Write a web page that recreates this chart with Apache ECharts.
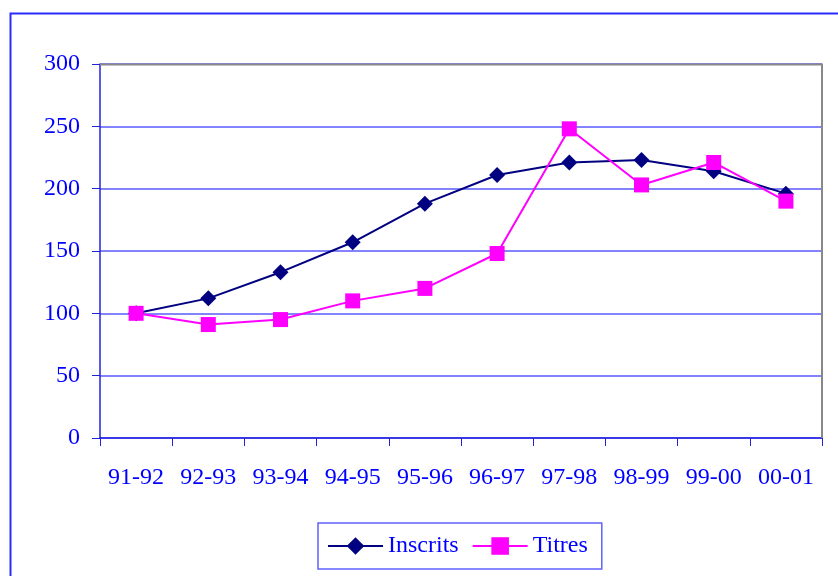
<!DOCTYPE html>
<html>
<head>
<meta charset="utf-8">
<script src="https://cdn.jsdelivr.net/npm/echarts@6/dist/echarts.min.js"></script>
<style>
  html, body { margin: 0; padding: 0; background: #ffffff; }
  #chart { width: 838px; height: 576px; }
</style>
</head>
<body>
<div id="chart"></div>
<script>
// Academic years
var years = ['91-92', '92-93', '93-94', '94-95', '95-96', '96-97', '97-98', '98-99', '99-00', '00-01'];
// Indexed values (91-92 = 100)
var inscrits = [100, 112, 133, 157, 188, 211, 221, 223, 214, 196];
var titres = [100, 91, 95, 110, 120, 148, 248, 203, 221, 190];
// Value axis ticks
var yTicks = [0, 50, 100, 150, 200, 250, 300];

var FONT = '"Liberation Serif", "Times New Roman", serif';
var TEXT_BLUE = '#0000ff';

var chart = echarts.init(document.getElementById('chart'), null, { renderer: 'canvas' });
chart.setOption({
  animation: false,
  backgroundColor: '#ffffff',
  graphic: [
    {
      type: 'rect',
      shape: { x: 10.5, y: 13.5, width: 900, height: 700 },
      style: { fill: 'none', stroke: '#2b2bff', lineWidth: 2 },
      silent: true,
      z: -1
    },
    {
      // top and right edges of the plot area
      type: 'polyline',
      shape: { points: [[100, 64.5], [822, 64.5], [822, 438]] },
      style: { stroke: '#888888', lineWidth: 2, fill: 'none' },
      silent: true,
      z: 1
    }
  ],
  grid: { left: 100, right: 16, top: 64, bottom: 138, containLabel: false },
  xAxis: {
    type: 'category',
    data: years,
    boundaryGap: true,
    axisLine: { show: true, lineStyle: { color: '#2222dd', width: 1.5 } },
    axisTick: { show: true, interval: 0, length: 8, lineStyle: { color: '#2222dd', width: 1 } },
    axisLabel: { interval: 0, color: TEXT_BLUE, fontFamily: FONT, fontSize: 24, margin: 28 },
    splitLine: { show: false }
  },
  yAxis: {
    type: 'value',
    min: yTicks[0],
    max: yTicks[yTicks.length - 1],
    interval: 50,
    axisLine: { show: true, lineStyle: { color: '#2222dd', width: 1.5 } },
    axisTick: { show: true, length: 8, lineStyle: { color: '#2222dd', width: 1 } },
    axisLabel: { color: TEXT_BLUE, fontFamily: FONT, fontSize: 24, margin: 20 },
    splitLine: { show: true, lineStyle: { color: '#5a5aff', width: 1.5 } }
  },
  legend: {
    left: 318,
    top: 523,
    orient: 'horizontal',
    padding: [11, 14, 11, 9],
    itemGap: 13,
    itemWidth: 55,
    itemHeight: 22,
    borderColor: '#6060ff',
    borderWidth: 1.5,
    textStyle: { color: TEXT_BLUE, fontFamily: FONT, fontSize: 24 },
    data: ['Inscrits', 'Titres']
  },
  series: [
    {
      name: 'Inscrits',
      type: 'line',
      data: inscrits,
      symbol: 'diamond',
      symbolSize: 16,
      lineStyle: { color: '#000080', width: 2 },
      itemStyle: { color: '#000080' },
      z: 3
    },
    {
      name: 'Titres',
      type: 'line',
      data: titres,
      symbol: 'rect',
      symbolSize: 15,
      lineStyle: { color: '#ff00ff', width: 2 },
      itemStyle: { color: '#ff00ff' },
      z: 4
    }
  ]
});
</script>
</body>
</html>
